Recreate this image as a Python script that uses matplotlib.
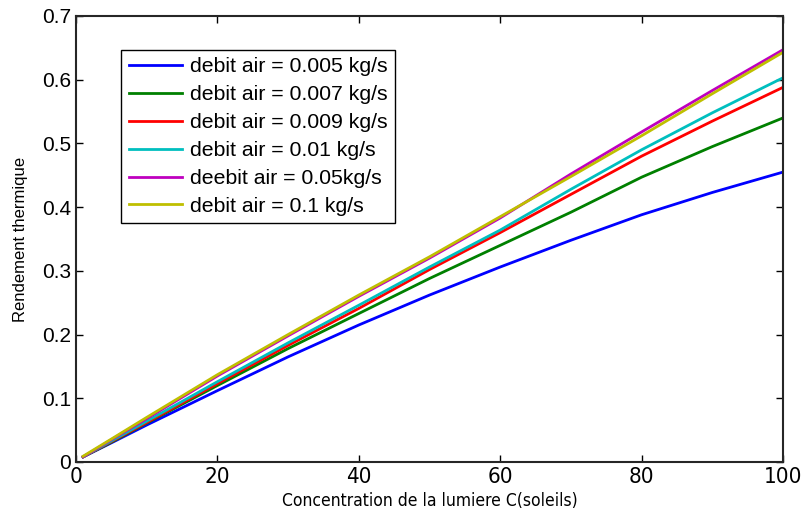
import matplotlib
matplotlib.use('Agg')
import matplotlib.pyplot as plt
from matplotlib import font_manager

# concentration (soleils)
C = [1, 5, 10, 20, 30, 40, 50, 60, 70, 80, 90, 100]

# rendement thermique pour chaque debit d'air
r_0005 = [0.008, 0.030, 0.058, 0.112, 0.165, 0.215, 0.262, 0.306, 0.348, 0.388, 0.423, 0.455]
r_0007 = [0.008, 0.031, 0.061, 0.120, 0.178, 0.233, 0.288, 0.340, 0.392, 0.447, 0.495, 0.540]
r_0009 = [0.008, 0.032, 0.062, 0.123, 0.183, 0.241, 0.302, 0.360, 0.420, 0.480, 0.535, 0.588]
r_001 = [0.008, 0.033, 0.064, 0.126, 0.187, 0.246, 0.306, 0.364, 0.428, 0.490, 0.548, 0.603]
r_005 = [0.008, 0.035, 0.068, 0.135, 0.198, 0.260, 0.320, 0.383, 0.452, 0.518, 0.583, 0.647]
r_01 = [0.009, 0.036, 0.070, 0.137, 0.200, 0.262, 0.322, 0.385, 0.448, 0.512, 0.578, 0.643]

labels = ['debit air = 0.005 kg/s', 'debit air = 0.007 kg/s', 'debit air = 0.009 kg/s',
          'debit air = 0.01 kg/s', 'deebit air = 0.05kg/s', 'debit air = 0.1 kg/s']
colors = ['#0000ff', '#008000', '#ff0000', '#00bfbf', '#bf00bf', '#bfbf00']

plt.rcParams['font.family'] = ['Liberation Sans', 'DejaVu Sans']
narrow = font_manager.FontProperties(family='DejaVu Sans', stretch='condensed')

fig = plt.figure(figsize=(8.1, 5.17), dpi=100)
ax = fig.add_axes([0.0938, 0.1064, 0.8729, 0.8627])

series = [r_0005, r_0007, r_0009, r_001, r_005, r_01]
for ys, lab, col in zip(series, labels, colors):
    ax.plot(C, ys, color=col, linewidth=2, label=lab)

ax.set_xlim(0, 100)
ax.set_ylim(0, 0.7)
ax.set_xticks([0, 20, 40, 60, 80, 100])
ax.set_yticks([0, 0.1, 0.2, 0.3, 0.4, 0.5, 0.6, 0.7])
ax.set_yticklabels(['0', '0.1', '0.2', '0.3', '0.4', '0.5', '0.6', '0.7'])
ax.tick_params(direction='in', top=True, right=True, length=5, width=1, labelsize=15)
for t in ax.get_xticklabels():
    t.set_fontproperties(narrow)
    t.set_fontsize(16)
for s in ax.spines.values():
    s.set_linewidth(1.5)
    s.set_color('#262626')

xl = ax.set_xlabel('Concentration de la lumiere C(soleils)', labelpad=4)
xl.set_fontproperties(narrow)
xl.set_fontsize(12.5)
ax.set_ylabel('Rendement thermique', fontsize=12, labelpad=10)

leg = ax.legend(loc='upper left', bbox_to_anchor=(0.064, 0.924), borderaxespad=0,
                fontsize=15.3, handlelength=2.5, fancybox=False, framealpha=1,
                edgecolor='black', labelspacing=0.42, handletextpad=0.4,
                borderpad=0.35)
leg.get_frame().set_linewidth(1.0)

fig.savefig('out.png', dpi=100)
